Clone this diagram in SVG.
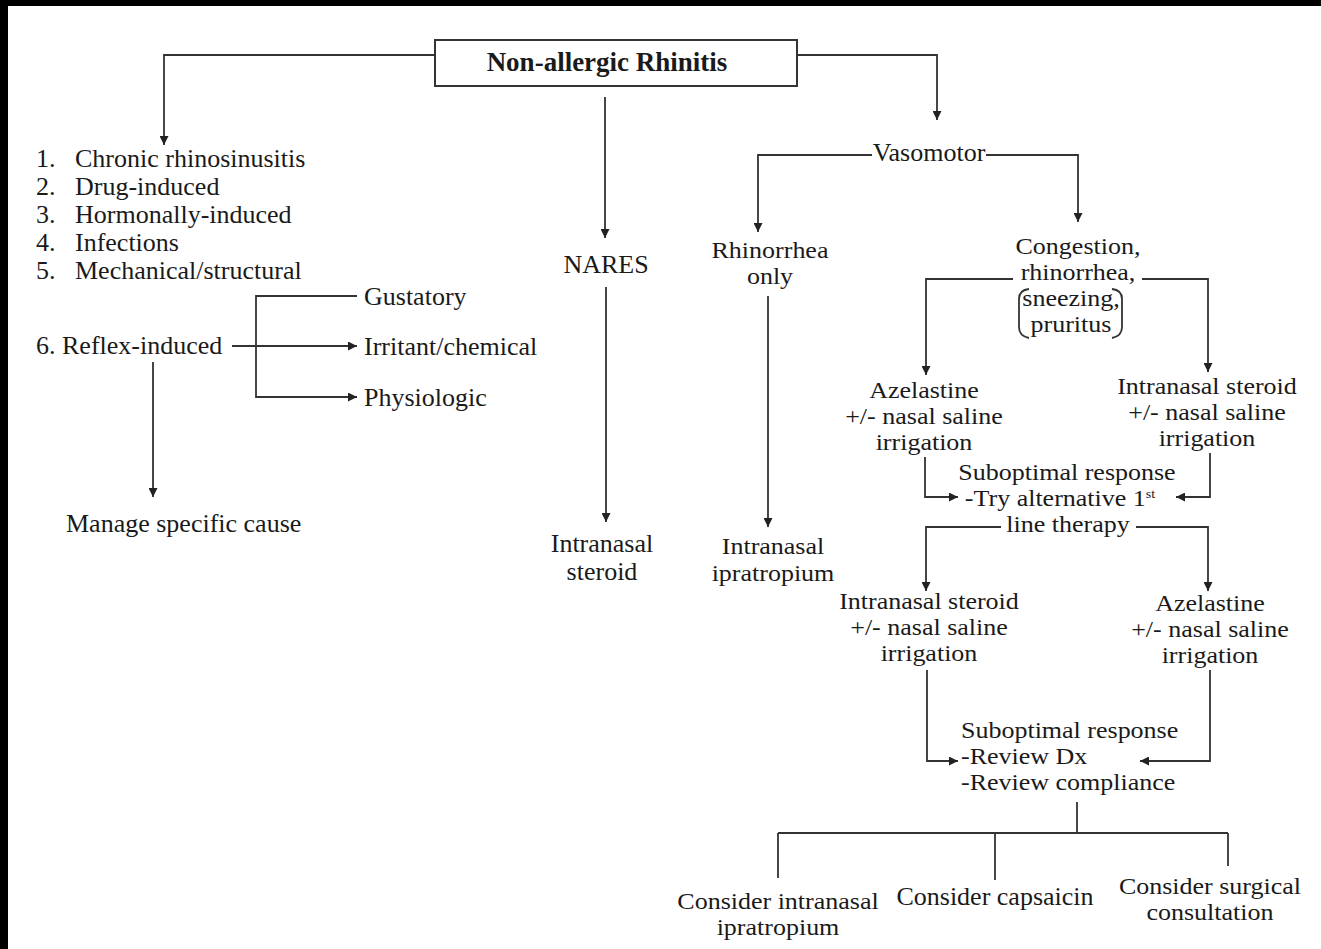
<svg xmlns="http://www.w3.org/2000/svg" width="1321" height="949" viewBox="0 0 1321 949">
<defs>
<style>
text{font-family:"Liberation Serif","Times New Roman",serif;font-size:26px;fill:#1a1a1a}
.c{text-anchor:middle}
.b{font-weight:bold;font-size:27px}
.ln{fill:none;stroke:#333;stroke-width:1.8}
.arr{marker-end:url(#ah)}
</style>
<marker id="ah" viewBox="0 0 10 10" refX="10" refY="5" markerWidth="9" markerHeight="9" markerUnits="userSpaceOnUse" orient="auto">
<path d="M0,0 L10,5 L0,10 z" fill="#222"/>
</marker>
</defs>
<rect x="0" y="0" width="1321" height="949" fill="#fff"/>
<rect x="0" y="0" width="1321" height="6" fill="#000"/>
<rect x="0" y="0" width="8" height="949" fill="#000"/>

<g id="connectors">
<path class="ln arr" d="M435,55 H164 V145"/>
<path class="ln arr" d="M797,55 H937 V120"/>
<path class="ln arr" d="M605,97 V238"/>
<path class="ln arr" d="M606,287 V522"/>
<path class="ln arr" d="M232,346 H357"/>
<path class="ln arr" d="M357,296 H256 V397 H357"/>
<path class="ln arr" d="M153,362 V497"/>
<path class="ln arr" d="M872,155 H758 V232"/>
<path class="ln arr" d="M986,155 H1078 V222"/>
<path class="ln arr" d="M768,296 V527"/>
<path class="ln arr" d="M1013,279 H926 V375"/>
<path class="ln arr" d="M1142,279 H1208 V372"/>
<path class="ln arr" d="M925,457 V497 H958"/>
<path class="ln arr" d="M1210,453 V497 H1176"/>
<path class="ln arr" d="M1001,527 H926 V591"/>
<path class="ln arr" d="M1136,527 H1208 V591"/>
<path class="ln arr" d="M927,670 V761 H958"/>
<path class="ln arr" d="M1210,670 V761 H1140"/>
<path class="ln" d="M1077,802 V833 M778,833 H1228 M778,833 V878 M995,833 V880 M1228,833 V866"/>
</g>

<g id="root">
<rect x="435" y="40" width="362" height="46" fill="#fff" stroke="#333" stroke-width="2"/>
<text class="c b" x="607" y="71">Non-allergic Rhinitis</text>
</g>

<g id="causes">
<text y="167"><tspan x="36">1.</tspan><tspan x="75">Chronic rhinosinusitis</tspan><tspan x="36" dy="28">2.</tspan><tspan x="75">Drug-induced</tspan><tspan x="36" dy="28">3.</tspan><tspan x="75">Hormonally-induced</tspan><tspan x="36" dy="28">4.</tspan><tspan x="75">Infections</tspan><tspan x="36" dy="28">5.</tspan><tspan x="75">Mechanical/structural</tspan></text>
</g>
<g id="reflex"><text x="36" y="354">6. Reflex-induced</text></g>
<g id="gustatory"><text x="364" y="305">Gustatory</text></g>
<g id="irritant"><text x="364" y="355">Irritant/chemical</text></g>
<g id="physiologic"><text x="364" y="406">Physiologic</text></g>
<g id="manage"><text x="66" y="532">Manage specific cause</text></g>

<g id="nares"><text class="c" x="606" y="273">NARES</text></g>
<g id="nares-tx"><text class="c" y="552"><tspan x="602">Intranasal</tspan><tspan x="602" dy="28">steroid</tspan></text></g>

<g id="vasomotor"><text class="c" x="929" y="161">Vasomotor</text></g>
<g id="rhinorrhea"><text class="c" transform="translate(0,258) scale(1,0.92)"><tspan x="770" y="0">Rhinorrhea</tspan><tspan x="770" dy="28.26">only</tspan></text></g>
<g id="ipratropium"><text class="c" transform="translate(0,554) scale(1,0.92)"><tspan x="773" y="0">Intranasal</tspan><tspan x="773" dy="29.35">ipratropium</tspan></text></g>

<g id="congestion">
<text class="c" transform="translate(0,254) scale(1,0.92)"><tspan x="1078" y="0">Congestion,</tspan><tspan x="1078" dy="28.26">rhinorrhea,</tspan><tspan x="1071" dy="28.26">sneezing,</tspan><tspan x="1071" dy="28.26">pruritus</tspan></text>
<path class="ln" d="M1029,289 Q1019,290 1019,299 V327 Q1019,336 1029,338" stroke-width="1.4"/>
<path class="ln" d="M1112,289 Q1122,290 1122,299 V327 Q1122,336 1112,338" stroke-width="1.4"/>
</g>

<g id="azelastine1"><text class="c" transform="translate(0,398) scale(1,0.92)"><tspan x="924" y="0">Azelastine</tspan><tspan x="924" dy="28.26">+/- nasal saline</tspan><tspan x="924" dy="28.26">irrigation</tspan></text></g>
<g id="steroid1"><text class="c" transform="translate(0,394) scale(1,0.92)"><tspan x="1207" y="0">Intranasal steroid</tspan><tspan x="1207" dy="28.26">+/- nasal saline</tspan><tspan x="1207" dy="28.26">irrigation</tspan></text></g>

<g id="subopt1">
<text class="c" transform="translate(0,480) scale(1,0.92)"><tspan x="1067" y="0">Suboptimal response</tspan><tspan x="1060" dy="28.26">-Try alternative 1</tspan><tspan font-size="14" dy="-8.7">st</tspan><tspan x="1068" dy="36.96">line therapy</tspan></text>
</g>

<g id="steroid2"><text class="c" transform="translate(0,609) scale(1,0.92)"><tspan x="929" y="0">Intranasal steroid</tspan><tspan x="929" dy="28.26">+/- nasal saline</tspan><tspan x="929" dy="28.26">irrigation</tspan></text></g>
<g id="azelastine2"><text class="c" transform="translate(0,611) scale(1,0.92)"><tspan x="1210" y="0">Azelastine</tspan><tspan x="1210" dy="28.26">+/- nasal saline</tspan><tspan x="1210" dy="28.26">irrigation</tspan></text></g>

<g id="subopt2">
<text transform="translate(0,738) scale(1,0.92)"><tspan x="961" y="0">Suboptimal response</tspan><tspan x="961" dy="28.26">-Review Dx</tspan><tspan x="961" dy="28.26">-Review compliance</tspan></text>
</g>

<g id="consider-ipra"><text class="c" transform="translate(0,909) scale(1,0.92)"><tspan x="778" y="0">Consider intranasal</tspan><tspan x="778" dy="28.26">ipratropium</tspan></text></g>
<g id="consider-caps"><text class="c" x="995" y="905">Consider capsaicin</text></g>
<g id="consider-surg"><text class="c" transform="translate(0,894) scale(1,0.92)"><tspan x="1210" y="0">Consider surgical</tspan><tspan x="1210" dy="28.26">consultation</tspan></text></g>
</svg>
